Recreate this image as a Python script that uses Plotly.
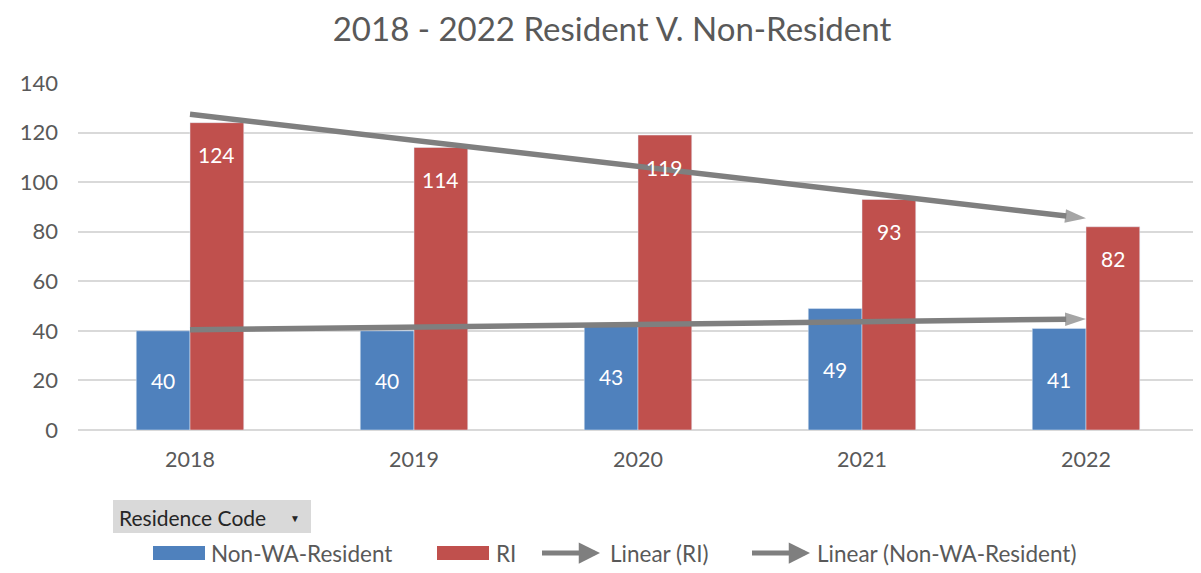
import numpy as np
import plotly.graph_objects as go

years = ["2018", "2019", "2020", "2021", "2022"]
non_wa = [40, 40, 43, 49, 41]
ri = [124, 114, 119, 93, 82]

BLUE = "#4f81bd"
RED = "#c0504d"
GRAY = "#7f7f7f"
TXT = "#595959"
FONT = "Lato, Open Sans, sans-serif"

# page offset: plotly div sits 8px inside the page
W, H = 1193, 565
L, R, T, B = 70, 3, 75, 143
PW, PH = W - L - R, H - T - B


def px(page_x):
    return (page_x - 8 - L) / PW


def py(page_y):
    return (H - B - (page_y - 8)) / PH


def linear_trend(vals):
    x = np.arange(len(vals))
    m, b = np.polyfit(x, vals, 1)
    return list(m * x + b)


fig = go.Figure()
fig.add_trace(go.Bar(
    x=years, y=non_wa, name="Non-WA-Resident", marker_color=BLUE,
    text=non_wa, textposition="inside", insidetextanchor="middle",
    textfont=dict(color="white", size=21, family=FONT), textangle=0,
))
fig.add_trace(go.Bar(
    x=years, y=ri, name="RI", marker_color=RED,
))

n = len(years)
sym = ["circle"] * (n - 1) + ["arrow"]
sizes = [0] * (n - 1) + [22]
for name, vals in [("Linear (RI)", ri), ("Linear (Non-WA-Resident)", non_wa)]:
    fig.add_trace(go.Scatter(
        x=years, y=linear_trend(vals), name=name, mode="lines+markers",
        line=dict(color=GRAY, width=5.5),
        marker=dict(symbol=sym, size=sizes, color=GRAY, angleref="previous",
                    line=dict(width=0)),
        cliponaxis=False,
    ))

bargap = 0.52
bar_px = PW / n * (1 - bargap) / 2
annotations = []
# RI labels: inside end of the red bars
for i, v in enumerate(ri):
    annotations.append(dict(x=i, y=v, xref="x", yref="y", text=str(v), showarrow=False,
                            xshift=bar_px / 2, yshift=-32, yanchor="middle",
                            font=dict(color="white", size=21, family=FONT)))

# "Residence Code" field button
annotations.append(dict(text="Residence Code", xref="paper", yref="paper", x=px(117), y=py(517),
                        xanchor="left", yanchor="middle", showarrow=False,
                        font=dict(size=21, color="#262626", family=FONT)))
annotations.append(dict(text="\u25BC", xref="paper", yref="paper", x=px(295), y=py(518),
                        xanchor="center", yanchor="middle", showarrow=False,
                        font=dict(size=10, color="#262626", family=FONT)))

# custom legend
LEG_Y = py(553)
LEG_FONT = dict(size=22.5, color=TXT, family=FONT)
for label, x_text in [("Non-WA-Resident", 209), ("RI", 494),
                      ("Linear (RI)", 608), ("Linear (Non-WA-Resident)", 815)]:
    annotations.append(dict(text=label, xref="paper", yref="paper", x=px(x_text), y=LEG_Y,
                            xanchor="left", yanchor="middle", showarrow=False, font=LEG_FONT))
for tip in [600, 810]:
    annotations.append(dict(text=" ", xref="paper", yref="paper", x=px(tip), y=LEG_Y,
                            ax=-60, ay=0, showarrow=True, arrowhead=2, arrowsize=0.85,
                            arrowwidth=5, arrowcolor=GRAY, font=dict(size=2)))

shapes = [
    dict(type="rect", xref="paper", yref="paper", x0=px(113), x1=px(311), y0=py(533), y1=py(500),
         fillcolor="#d9d9d9", line=dict(width=0), layer="below"),
    dict(type="rect", xref="paper", yref="paper", x0=px(153), x1=px(205), y0=py(560), y1=py(546),
         fillcolor=BLUE, line=dict(width=0)),
    dict(type="rect", xref="paper", yref="paper", x0=px(437), x1=px(489), y0=py(560), y1=py(546),
         fillcolor=RED, line=dict(width=0)),
]

fig.update_layout(
    width=W, height=H,
    margin=dict(l=L, r=R, t=T, b=B),
    paper_bgcolor="white", plot_bgcolor="white",
    barmode="group", bargap=bargap, bargroupgap=0,
    font=dict(family=FONT, color=TXT, size=17),
    title=dict(text="2018 - 2022 Resident V. Non-Resident", xref="container", yref="container",
               x=(612 - 8) / W, xanchor="center", y=1 - (29 - 8) / H, yanchor="middle",
               font=dict(size=33, color=TXT, family=FONT)),
    showlegend=False,
    xaxis=dict(type="category", showline=False, ticks="", tickfont=dict(size=21.5, color=TXT),
               showgrid=False, ticklabelstandoff=14),
    yaxis=dict(range=[0, 140], dtick=20, showgrid=True, gridcolor="#d9d9d9", gridwidth=1.5,
               zeroline=True, zerolinecolor="#d9d9d9", zerolinewidth=1.5,
               tickfont=dict(size=22, color=TXT), ticklabelstandoff=19),
    annotations=annotations,
    shapes=shapes,
)

fig.write_html("out.html")
